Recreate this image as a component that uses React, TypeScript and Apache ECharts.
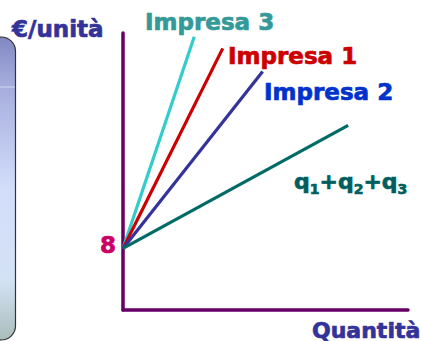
import React, { useEffect, useRef } from "react";
import * as echarts from "echarts";

const seriesNames = ["Impresa 3", "Impresa 1", "Impresa 2", "q1+q2+q3"];
const intercept = 8;
const endX = [2.5, 3.5, 4.9, 7.9];
const endY = [35.5, 34, 31, 24];
const lineColors = ["#33cccc", "#cc0000", "#333399", "#006b66"];
const xMax = 10;
const yMax = 36;

const FONT = "DejaVu Sans";

export default function App() {
  const ref = useRef<HTMLDivElement>(null);
  useEffect(() => {
    if (!ref.current) return;
    const chart = echarts.init(ref.current, undefined, { renderer: "svg" });
    const txt = (text: string, x: number, y: number, fill: string, align = "left", size = 22) => ({
      type: "text",
      x,
      y,
      z: 10,
      style: {
        text,
        fill,
        stroke: fill,
        lineWidth: 0.7,
        fontFamily: FONT,
        fontWeight: "bold",
        fontSize: size,
        align,
        verticalAlign: "middle",
      },
    });
    chart.setOption({
      animation: false,
      grid: { left: 123, right: 13, top: 33, bottom: 31 },
      xAxis: {
        type: "value",
        min: 0,
        max: xMax,
        axisLine: { show: true, lineStyle: { color: "#660066", width: 3.5 } },
        axisTick: { show: false },
        axisLabel: { show: false },
        splitLine: { show: false },
      },
      yAxis: {
        type: "value",
        min: 0,
        max: yMax,
        axisLine: { show: true, lineStyle: { color: "#660066", width: 3.5 } },
        axisTick: { show: false },
        axisLabel: { show: false },
        splitLine: { show: false },
      },
      series: seriesNames.map((name, i) => ({
        name,
        type: "line",
        symbol: "none",
        data: [
          [0, intercept],
          [endX[i], endY[i]],
        ],
        lineStyle: { color: lineColors[i], width: 3.2, cap: "butt" },
        z: 2 + i,
      })),
      graphic: [
        {
          type: "rect",
          shape: { x: -13, y: 37, width: 28.5, height: 303, r: 28 },
          style: {
            fill: {
              type: "linear",
              x: 0,
              y: 0,
              x2: 0,
              y2: 1,
              colorStops: [
                { offset: 0, color: "#8088c2" },
                { offset: 0.15, color: "#a4abdc" },
                { offset: 0.5, color: "#d2ddfa" },
                { offset: 0.8, color: "#d4e2f6" },
                { offset: 1, color: "#a9bdbb" },
              ],
            },
            stroke: "#333333",
            lineWidth: 1.2,
          },
        },
        {
          type: "line",
          shape: { x1: 0, y1: 87, x2: 15, y2: 87 },
          style: { stroke: "rgba(230,235,255,0.7)", lineWidth: 1 },
        },
        txt("€/unità", 12, 29, "#333399", "left", 23),
        txt("Impresa 3", 145, 22, "#339999", "left", 23),
        txt("Impresa 1", 228, 56, "#cc0000", "left", 23),
        txt("Impresa 2", 264, 92, "#0033cc", "left", 23),
        txt("8", 116, 245, "#cc0066", "right", 23),
        txt("Quantità", 312, 330, "#333399", "left", 22),
        {
          type: "text",
          x: 294,
          y: 181,
          z: 10,
          style: {
            text: "{q|q}{s|1}{q|+q}{s|2}{q|+q}{s|3}",
            fill: "#005e5e",
            stroke: "#005e5e",
            lineWidth: 0.7,
            fontFamily: FONT,
            fontWeight: "bold",
            fontSize: 22,
            align: "left",
            verticalAlign: "middle",
            rich: {
              q: { fontFamily: FONT, fontWeight: "bold", fontSize: 22, lineHeight: 24, fill: "#005e5e" },
              s: {
                fontFamily: FONT,
                fontWeight: "bold",
                fontSize: 14,
                lineHeight: 24,
                padding: [16, 0, 0, 0],
                fill: "#005e5e",
              },
            },
          },
        },
      ],
    });
    return () => chart.dispose();
  }, []);
  return <div ref={ref} style={{ width: 421, height: 341, position: "absolute", left: 0, top: 0 }} />;
}
